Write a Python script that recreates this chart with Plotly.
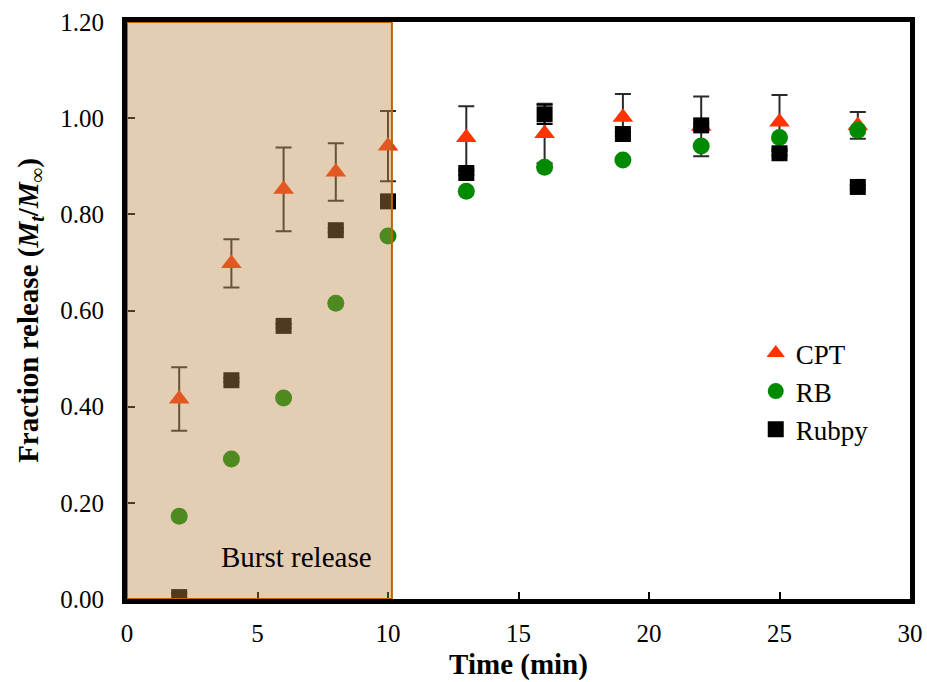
import plotly.graph_objects as go

time = [2, 4, 6, 8, 10, 13, 16, 19, 22, 25, 28]
cpt = [0.416, 0.698, 0.852, 0.888, 0.942, 0.960, 0.968, 1.002, 0.983, 0.992, 0.985]
cpt_err = [0.066, 0.050, 0.087, 0.060, 0.073, 0.065, 0.062, 0.048, 0.062, 0.056, 0.028]
rb = [0.172, 0.291, 0.418, 0.615, 0.755, 0.848, 0.898, 0.913, 0.942, 0.960, 0.975]
rb_err = [0.004, 0.004, 0.004, 0.004, 0.004, 0.004, 0.004, 0.004, 0.004, 0.004, 0.004]
rubpy = [0.004, 0.455, 0.568, 0.767, 0.827, 0.886, 1.008, 0.967, 0.985, 0.927, 0.857]
rubpy_err = [0.008, 0.004, 0.004, 0.004, 0.004, 0.004, 0.020, 0.004, 0.004, 0.004, 0.004]

burst_end = 10.15
x_ticks = [0, 5, 10, 15, 20, 25, 30]
y_ticks = [0, 0.2, 0.4, 0.6, 0.8, 1.0, 1.2]

FONT = "Liberation Serif, Times New Roman, serif"

fig = go.Figure()
fig.add_trace(go.Scatter(
    x=time, y=cpt, mode="markers", name="CPT", legendgroup="a",
    marker=dict(symbol="triangle-up", size=18, color="#FF3300"),
    error_y=dict(type="data", array=cpt_err, color="#2a2a2a", thickness=2, width=8),
))
fig.add_trace(go.Scatter(
    x=time, y=rb, mode="markers", name="RB", legendgroup="b",
    marker=dict(symbol="circle", size=17, color="#008A00"),
    error_y=dict(type="data", array=rb_err, color="#000000", thickness=1.5, width=4),
))
fig.add_trace(go.Scatter(
    x=time, y=rubpy, mode="markers", name="Rubpy", legendgroup="c",
    marker=dict(symbol="square", size=16, color="#000000"),
    error_y=dict(type="data", array=rubpy_err, color="#000000", thickness=2, width=8),
))

fig.add_shape(type="rect", xref="x", yref="y", x0=0, x1=burst_end, y0=0, y1=1.2,
              fillcolor="rgba(188,138,76,0.42)", line=dict(color="#B8660A", width=2),
              layer="above")

fig.add_annotation(x=6.48, y=0.087, xref="x", yref="y", text="Burst release",
                   showarrow=False, font=dict(family=FONT, size=29, color="#000000"))

fig.update_layout(
    width=927, height=682,
    margin=dict(l=127, r=17, t=22, b=83),
    plot_bgcolor="white", paper_bgcolor="white",
    font=dict(family=FONT, size=25, color="#000000"),
    showlegend=True,
    legend=dict(x=0.803, y=0.468, xanchor="left", yanchor="top",
                font=dict(family=FONT, size=27), tracegroupgap=0,
                bgcolor="rgba(0,0,0,0)", itemwidth=30),
)
fig.update_xaxes(range=[0, 30], tickvals=x_ticks, ticktext=[str(v) for v in x_ticks],
                 automargin=False,
                 showgrid=False, zeroline=False, showline=True, mirror=True,
                 linecolor="black", linewidth=5, ticks="inside", ticklen=7,
                 tickwidth=1.5, tickcolor="black", ticklabelstandoff=8,
                 title=dict(text="<b>Time (min)</b>", font=dict(size=29), standoff=9))
fig.update_yaxes(range=[0, 1.2], tickvals=y_ticks, ticktext=[f"{v:.2f}" for v in y_ticks],
                 automargin=False,
                 showgrid=False, zeroline=False, showline=True, mirror=True,
                 linecolor="black", linewidth=5, ticks="inside", ticklen=8,
                 tickwidth=1.5, tickcolor="black", ticklabelstandoff=13,
                 title=dict(text="<b>Fraction release (<i>M</i><sub><i>t</i></sub>/<i>M</i><sub>∞</sub>)</b>",
                            font=dict(size=29), standoff=15))

fig.write_html("out.html", config={"displayModeBar": False},
               post_script="document.body.style.margin='0';document.body.style.overflow='hidden';")
